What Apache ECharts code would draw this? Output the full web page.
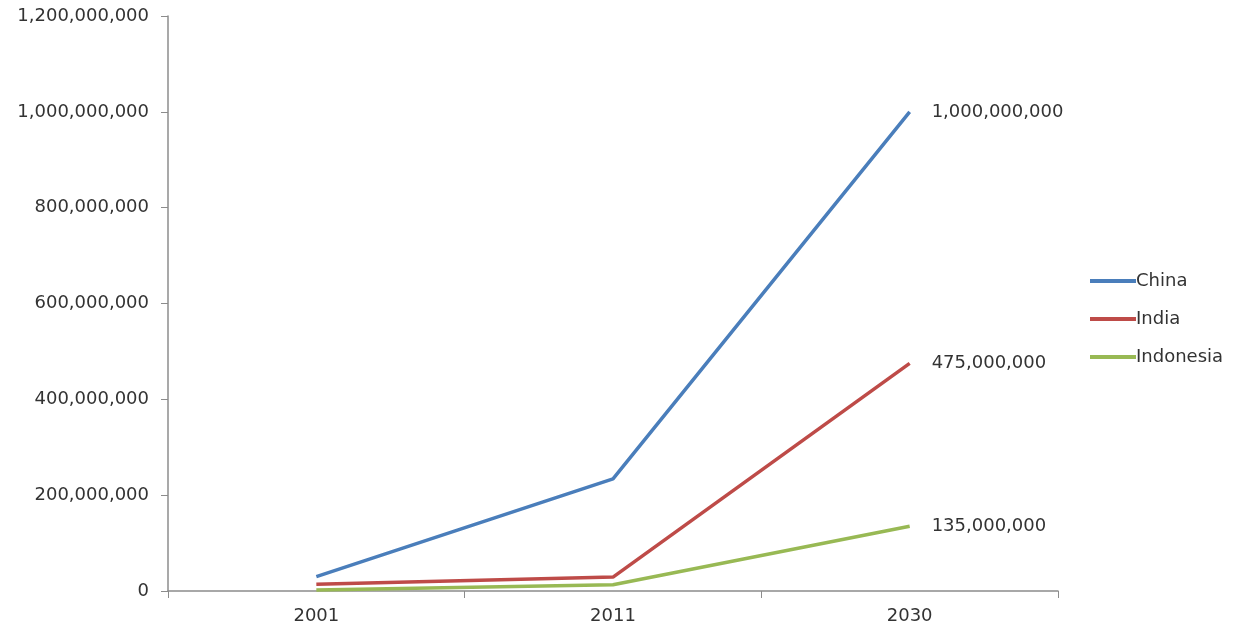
<!DOCTYPE html>
<html>
<head>
<meta charset="utf-8">
<script src="https://cdn.jsdelivr.net/npm/echarts@6/dist/echarts.min.js"></script>
<style>
  html, body { margin: 0; padding: 0; background: #fff; }
  #main { width: 1236px; height: 629px; }
</style>
</head>
<body>
<div id="main"></div>
<script>
// 数据
var years = ["2001", "2011", "2030"];
var china = [30000000, 234000000, 1000000000];
var india = [14000000, 29000000, 475000000];
var indonesia = [2000000, 13000000, 135000000];

var fmt = function (v) { return Number(v).toLocaleString("en-US"); };

var chart = echarts.init(document.getElementById("main"));

function lineSeries(name, data, color) {
    return {
        name: name, type: "line", data: data,
        symbol: "none",
        lineStyle: { color: color, width: 3.5 },
        itemStyle: { color: color },
        endLabel: {
            show: true, distance: 22,
            color: "#333", fontSize: 18, fontFamily: "DejaVu Sans",
            formatter: function (p) { return fmt(p.value); }
        }
    };
}

chart.setOption({
    backgroundColor: "#fff",
    animation: false,
    textStyle: { fontFamily: "DejaVu Sans" },
    grid: { left: 168, right: 178, top: 16, bottom: 38 },
    legend: {
        orient: "vertical", left: 1085, top: 267,
        icon: "rect", itemWidth: 46, itemHeight: 4, itemGap: 20,
        textStyle: { color: "#333", fontSize: 18, padding: [0, 0, 0, -5] },
        data: ["China", "India", "Indonesia"]
    },
    xAxis: {
        type: "category", data: years, boundaryGap: true,
        axisLine: { lineStyle: { color: "#8c8c8c", width: 1.5 } },
        axisTick: { show: true, length: 7, lineStyle: { color: "#8c8c8c" } },
        axisLabel: { color: "#333", fontSize: 18, margin: 16 }
    },
    yAxis: {
        type: "value", min: 0, max: 1200000000, interval: 200000000,
        axisLine: { show: true, lineStyle: { color: "#8c8c8c", width: 1.5 } },
        axisTick: { show: true, length: 7, lineStyle: { color: "#8c8c8c" } },
        splitLine: { show: false },
        axisLabel: { color: "#333", fontSize: 18, margin: 19, formatter: fmt }
    },
    series: [
        lineSeries("China", china, "#4a7ebb"),
        lineSeries("India", india, "#be4b48"),
        lineSeries("Indonesia", indonesia, "#98b954")
    ]
});
</script>
</body>
</html>
